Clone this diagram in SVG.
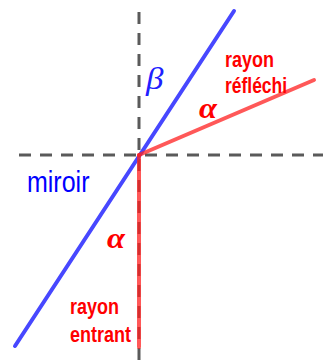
<svg xmlns="http://www.w3.org/2000/svg" width="323" height="360" viewBox="0 0 323 360">
<style>
.axis{stroke:#5a5a5a;stroke-width:3;stroke-dasharray:12 9;fill:none}
.mirror{stroke:#4747ff;stroke-width:4;fill:none;stroke-linecap:round}
.ray{stroke:#ff2020;stroke-opacity:0.75;stroke-width:4;fill:none;stroke-linecap:round}
.lbl{font-family:"Liberation Sans",Arial,sans-serif;font-weight:bold;font-size:18px;fill:#ff0000}
.greek{font-family:"Liberation Serif","Times New Roman",serif;font-style:italic;font-weight:bold;font-size:26px}
</style>
<g id="axes">
<line class="axis" x1="139" y1="12" x2="139" y2="360"/>
<line class="axis" x1="19" y1="155" x2="323" y2="155"/>
</g>
<g id="connectors">
<line class="mirror" x1="234" y1="11" x2="15" y2="346"/>
<line class="ray" x1="139" y1="155" x2="314" y2="80"/>
<line class="ray" x1="139" y1="155" x2="139" y2="347"/>
</g>
<g id="miroir">
<text transform="translate(27,192) scale(1,1.18)" font-family="'Liberation Sans',Arial,sans-serif" font-size="25" fill="#0000ff">miroir</text>
</g>
<g id="beta">
<text class="greek" transform="translate(146,89) scale(1.25,1.15)" style="font-weight:normal;font-size:28px" fill="#2020ff">β</text>
</g>
<g id="alpha-reflechi">
<text class="greek" transform="translate(199,118) scale(1.25,1.1)" fill="#ff0000">α</text>
</g>
<g id="alpha-entrant">
<text class="greek" transform="translate(107,248) scale(1.25,1.1)" fill="#ff0000">α</text>
</g>
<g id="rayon-reflechi">
<text class="lbl" transform="translate(225,67) scale(1,1.18)">rayon</text>
<text class="lbl" transform="translate(225,93) scale(0.97,1.18)">réfléchi</text>
</g>
<g id="rayon-entrant">
<text class="lbl" transform="translate(70,314) scale(1,1.18)">rayon</text>
<text class="lbl" transform="translate(70,342) scale(1,1.18)">entrant</text>
</g>
</svg>
